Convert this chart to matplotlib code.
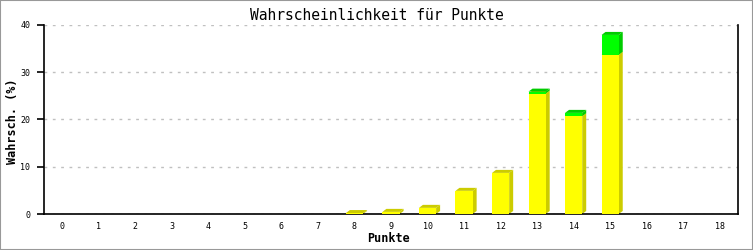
import numpy as np
import matplotlib.pyplot as plt
from matplotlib.patches import Polygon, Rectangle

points = np.arange(19)
yellow = [0, 0, 0, 0, 0, 0, 0, 0, 0.2, 0.45, 1.3, 4.9, 8.7, 25.5, 20.7, 33.7, 0, 0, 0]
green = [0, 0, 0, 0, 0, 0, 0, 0, 0, 0, 0, 0, 0, 0.4, 0.7, 4.2, 0, 0, 0]

W, H = 753, 250
fig = plt.figure(figsize=(W / 100, H / 100), dpi=100)
fig.patch.set_facecolor("white")
fig.patches.append(Rectangle((0, 0), 1, 1, transform=fig.transFigure,
                             fill=False, edgecolor="#999999", linewidth=1.5))

ax = fig.add_axes([44 / W, (H - 214) / H, (738 - 44) / W, (214 - 25) / H])
ax.set_xlim(-0.5, 18.5)
ax.set_ylim(0, 40)

width = 0.47
dx = 4 * 19 / 694      # depth offset in data units (4 px)
dy = 3 * 40 / 189      # (3 px)

segments = [(yellow, "#ffff00", "#cccc00"), (green, "#00ff00", "#00cc00")]
bottom = np.zeros(len(points))
for vals, front, side in segments:
    vals = np.array(vals, dtype=float)
    for x, b, v in zip(points, bottom, vals):
        if v <= 0:
            continue
        xr = x + width / 2
        xl = x - width / 2
        ax.add_patch(Polygon([(xr, b), (xr + dx, b + dy), (xr + dx, b + v + dy), (xr, b + v)],
                             closed=True, facecolor=side, edgecolor="none", zorder=2))
        ax.add_patch(Polygon([(xl, b + v), (xl + dx, b + v + dy), (xr + dx, b + v + dy), (xr, b + v)],
                             closed=True, facecolor=side, edgecolor="none", zorder=2))
    ax.bar(points, vals, width=width, bottom=bottom, color=front, linewidth=0, zorder=3)
    bottom = bottom + vals

ax.set_yticks([0, 10, 20, 30, 40])
ax.set_xticks(points)
ax.grid(axis="y", color="#c0c0c0", linestyle=(0, (2, 4)), linewidth=1)
ax.set_axisbelow(True)
ax.spines["top"].set_visible(False)
for s in ["left", "bottom", "right"]:
    ax.spines[s].set_linewidth(1.2)
ax.tick_params(axis="y", length=5, width=1.2, labelsize=6, pad=5)
ax.tick_params(axis="x", length=0, labelsize=6, pad=6)
for lab in ax.get_xticklabels() + ax.get_yticklabels():
    lab.set_family("DejaVu Sans Mono")

ax.set_xlabel("Punkte", family="DejaVu Sans Mono", fontweight="bold", fontsize=8.5, va="center")
ax.set_ylabel("Wahrsch. (%)", family="DejaVu Sans Mono", fontweight="bold", fontsize=8.5, va="center")
ax.xaxis.set_label_coords(389 / W, 1 - 239 / H, transform=fig.transFigure)
ax.yaxis.set_label_coords(12.5 / W, 1 - 121 / H, transform=fig.transFigure)
fig.text(0.5, 1 - 16 / H, "Wahrscheinlichkeit für Punkte", ha="center", va="center",
         family="DejaVu Sans Mono", fontsize=10.5)

fig.savefig("out.png", dpi=100)
